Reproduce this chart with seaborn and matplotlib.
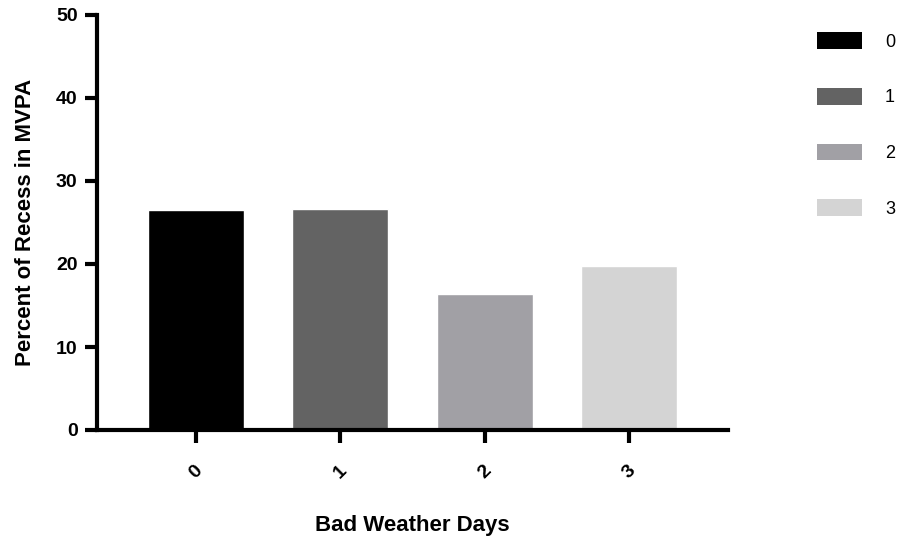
import matplotlib
matplotlib.use("Agg")
import matplotlib.pyplot as plt
import seaborn as sns
import pandas as pd
from matplotlib.patches import Patch

days = ["0", "1", "2", "3"]
values = [26.5, 26.6, 16.4, 19.8]
colors = ["#000000", "#636363", "#a1a0a5", "#d4d4d4"]
y_ticks = [0, 10, 20, 30, 40, 50]

sns.set_style("ticks")
plt.rcParams["font.family"] = ["Liberation Sans", "DejaVu Sans"]
plt.rcParams["text.color"] = "black"
plt.rcParams["axes.labelcolor"] = "black"
plt.rcParams["xtick.color"] = "black"
plt.rcParams["ytick.color"] = "black"

df = pd.DataFrame({"days": days, "value": values})

fig = plt.figure(figsize=(9.06, 5.44), dpi=100)
ax = fig.add_axes([97/906, 1-430/544, (728-97)/906, (430-15)/544])

sns.barplot(data=df, x="days", y="value", hue="days", palette=colors,
            order=days, hue_order=days, width=0.667, dodge=False,
            saturation=1, legend=False, ax=ax)

ax.set_xlim(-0.686, 3.686)
ax.set_ylim(0, 50)
ax.set_yticks(y_ticks)
ax.set_yticklabels([str(t) for t in y_ticks], fontsize=14, fontweight="bold")
ax.set_xticks(range(len(days)))
ax.set_xticklabels(days, fontsize=14, fontweight="bold", rotation=45,
                   ha="center", va="top")
for s in ["top", "right"]:
    ax.spines[s].set_visible(False)
for s in ["left", "bottom"]:
    ax.spines[s].set_linewidth(3)
    ax.spines[s].set_color("black")
ax.tick_params(axis="both", which="major", direction="out", length=9, width=3,
               color="black", bottom=True, left=True)
ax.tick_params(axis="y", pad=5)
ax.tick_params(axis="x", pad=14)

ax.set_ylabel("Percent of Recess in MVPA", fontsize=16, fontweight="bold",
              labelpad=14)
ax.set_xlabel("Bad Weather Days", fontsize=16, fontweight="bold", labelpad=24)

handles = [Patch(facecolor=c, edgecolor="none") for c in colors]
leg = fig.legend(handles, days, loc="upper left",
                 bbox_to_anchor=(812/906, 1-27/544),
                 frameon=False, fontsize=13, handlelength=2.45, handleheight=1.05,
                 labelspacing=2.05, handletextpad=1.3, borderaxespad=0,
                 borderpad=0.3)

fig.savefig("out.png", dpi=100)
